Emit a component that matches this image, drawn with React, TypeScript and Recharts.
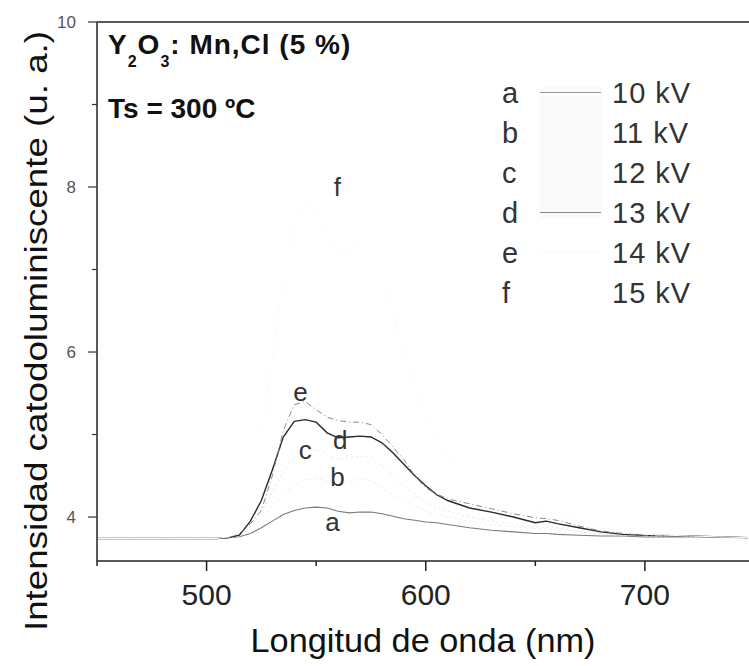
import React from 'react';
import { LineChart, Line, XAxis, YAxis, ReferenceLine, ReferenceDot } from 'recharts';

const wavelengths = [450, 480, 505, 510, 515, 520, 525, 530, 535, 540, 545, 550, 555, 560, 565, 570, 575, 580, 585, 590, 595, 600, 605, 610, 620, 630, 640, 650, 655, 660, 670, 680, 690, 700, 720, 747];

const seriesA = [3.74, 3.74, 3.74, 3.75, 3.76, 3.8, 3.87, 3.95, 4.03, 4.08, 4.11, 4.12, 4.11, 4.07, 4.05, 4.06, 4.06, 4.04, 4.01, 3.98, 3.96, 3.94, 3.93, 3.91, 3.87, 3.84, 3.82, 3.8, 3.8, 3.79, 3.78, 3.77, 3.77, 3.76, 3.76, 3.75];
const seriesB = [3.74, 3.74, 3.74, 3.75, 3.77, 3.85, 3.98, 4.14, 4.28, 4.38, 4.45, 4.47, 4.44, 4.4, 4.43, 4.46, 4.44, 4.36, 4.27, 4.2, 4.13, 4.07, 4.03, 4.0, 3.95, 3.91, 3.88, 3.86, 3.86, 3.85, 3.82, 3.79, 3.78, 3.77, 3.76, 3.75];
const seriesC = [3.74, 3.74, 3.74, 3.75, 3.77, 3.88, 4.05, 4.3, 4.55, 4.72, 4.8, 4.82, 4.76, 4.7, 4.72, 4.74, 4.72, 4.62, 4.5, 4.38, 4.27, 4.18, 4.12, 4.07, 4.0, 3.95, 3.91, 3.88, 3.88, 3.87, 3.83, 3.8, 3.78, 3.77, 3.76, 3.75];
const seriesD = [3.74, 3.74, 3.74, 3.75, 3.78, 3.95, 4.2, 4.57, 4.97, 5.16, 5.18, 5.15, 5.02, 4.96, 4.97, 4.98, 4.97, 4.9, 4.78, 4.64, 4.5, 4.38, 4.27, 4.2, 4.11, 4.06, 4.0, 3.93, 3.95, 3.92, 3.87, 3.82, 3.79, 3.78, 3.77, 3.75];
const seriesE = [3.74, 3.74, 3.74, 3.75, 3.8, 3.92, 4.08, 4.5, 5.05, 5.36, 5.4, 5.3, 5.21, 5.17, 5.15, 5.15, 5.12, 5.0, 4.85, 4.7, 4.5, 4.35, 4.28, 4.22, 4.16, 4.1, 4.04, 3.99, 3.98, 3.96, 3.89, 3.83, 3.8, 3.78, 3.77, 3.75];
const seriesF = [3.74, 3.74, 3.74, 3.76, 3.85, 4.3, 5.0, 5.9, 6.9, 7.6, 7.8, 7.7, 7.4, 7.2, 7.25, 7.3, 7.2, 6.9, 6.5, 6.0, 5.6, 5.25, 4.95, 4.75, 4.5, 4.3, 4.18, 4.08, 4.07, 4.04, 3.95, 3.87, 3.82, 3.79, 3.77, 3.75];

const seriesKeys = ['a', 'b', 'c', 'd', 'e', 'f'];
const seriesValues = [seriesA, seriesB, seriesC, seriesD, seriesE, seriesF];
const seriesNames = ['10 kV', '11 kV', '12 kV', '13 kV', '14 kV', '15 kV'];
const seriesColors = ['#7a7a7a', '#ececec', '#e8e8e8', '#2a2a2a', '#8a8a8a', '#fcfcfc'];
const seriesWidths = [1.1, 1, 1, 1.4, 1, 1];
const seriesDash = ['', '2 3', '2 3', '', '6 3 1 3', ''];
const legendLineColors = ['#999999', '#f6f6f6', '#f6f6f6', '#888888', '#f8f8f8', 'none'];

// curve label positions [wavelength, intensity]
const curveLabelX = [557.4, 559.7, 545, 561, 542.8, 559.7];
const curveLabelY = [3.94, 4.48, 4.81, 4.93, 5.52, 8.0];

const xTicks = [450, 500, 550, 600, 650, 700];
const xMajor = [500, 600, 700];
const yTicks = [4, 5, 6, 7, 8, 9, 10];
const yMajor = [4, 6, 8, 10];

const data = wavelengths.map((wl, i) => {
  const row: Record<string, number> = { wl };
  seriesKeys.forEach((k, j) => {
    row[k] = seriesValues[j][i];
  });
  return row;
});

const FONT = '"Liberation Sans", Arial, Helvetica, sans-serif';

const XTick = (props: any) => {
  const { x, y, payload } = props;
  const major = xMajor.includes(payload.value);
  return (
    <g>
      <line x1={x} x2={x} y1={y} y2={y + (major ? 10 : 5)} stroke="#222" strokeWidth={1.5} />
      {major && (
        <text x={x} y={y + 44} textAnchor="middle" fontSize={30} fill="#222" fontFamily={FONT}>
          {payload.value}
        </text>
      )}
    </g>
  );
};

const YTick = (props: any) => {
  const { x, y, payload } = props;
  const major = yMajor.includes(payload.value);
  return (
    <g>
      <line x1={x} x2={x - (major ? 9 : 5)} y1={y} y2={y} stroke="#333" strokeWidth={1.2} />
      {major && (
        <text x={x - 21} y={y + 6} textAnchor="end" fontSize={17} fill="#555" fontFamily={FONT}>
          {payload.value}
        </text>
      )}
    </g>
  );
};

const XTitle = (props: any) => {
  const { viewBox } = props;
  const cx = viewBox.x + viewBox.width / 2;
  return (
    <text
      x={cx}
      y={652}
      textAnchor="middle"
      fontSize={33}
      fill="#111"
      fontFamily={FONT}
      textLength={345}
      lengthAdjust="spacingAndGlyphs"
    >
      Longitud de onda (nm)
    </text>
  );
};

const YTitle = () => (
  <text
    x={0}
    y={0}
    transform="translate(47, 331) rotate(-90)"
    textAnchor="middle"
    fontSize={32}
    fill="#111"
    fontFamily={FONT}
    textLength={600}
    lengthAdjust="spacingAndGlyphs"
  >
    Intensidad catodoluminiscente (u. a.)
  </text>
);

const CurveLabel = (text: string) => (props: any) => {
  const { viewBox } = props;
  const cx = viewBox.x + viewBox.width / 2;
  const cy = viewBox.y + viewBox.height / 2;
  return (
    <text x={cx} y={cy + 9} textAnchor="middle" fontSize={26} fill="#333" fontFamily={FONT}>
      {text}
    </text>
  );
};

export default function App() {
  return (
    <div
      style={{
        position: 'absolute',
        left: 0,
        top: 0,
        width: 749,
        height: 666,
        background: '#fff',
        fontFamily: FONT,
        overflow: 'hidden',
      }}
    >
      <LineChart width={749} height={666} data={data} margin={{ top: 22, right: 0, bottom: 0, left: 0 }}>
        <XAxis
          type="number"
          dataKey="wl"
          domain={[450, 747.5]}
          allowDataOverflow
          ticks={xTicks}
          tickSize={0}
          tickMargin={0}
          height={105}
          axisLine={{ stroke: '#222', strokeWidth: 1.5 }}
          tickLine={false}
          tick={<XTick />}
          label={<XTitle />}
        />
        <YAxis
          type="number"
          domain={[3.467, 10]}
          allowDataOverflow
          ticks={yTicks}
          tickSize={0}
          tickMargin={0}
          width={97}
          axisLine={{ stroke: '#222', strokeWidth: 1.5 }}
          tickLine={false}
          tick={<YTick />}
          label={<YTitle />}
        />
        <ReferenceLine y={10} stroke="#222" strokeWidth={1.5} ifOverflow="visible" />
        {seriesKeys.map((k, j) => (
          <Line
            key={k}
            type="linear"
            dataKey={k}
            stroke={seriesColors[j]}
            strokeWidth={seriesWidths[j]}
            strokeDasharray={seriesDash[j] || undefined}
            dot={false}
            isAnimationActive={false}
          />
        ))}
        {seriesKeys.map((k, j) => (
          <ReferenceDot
            key={'lbl-' + k}
            x={curveLabelX[j]}
            y={curveLabelY[j]}
            r={1}
            fill="none"
            stroke="none"
            label={CurveLabel(k)}
          />
        ))}
      </LineChart>

      <svg
        width={749}
        height={666}
        style={{ position: 'absolute', left: 0, top: 0, pointerEvents: 'none' }}
      >
        <text x={108} y={54} fontSize={28} fontWeight="bold" fill="#111" fontFamily={FONT} letterSpacing={1}>
          Y
          <tspan fontSize={16} dy={13}>2</tspan>
          <tspan fontSize={28} dy={-13}>O</tspan>
          <tspan fontSize={16} dy={13}>3</tspan>
          <tspan fontSize={28} dy={-13}>: Mn,Cl (5 %)</tspan>
        </text>
        <text x={108} y={118} fontSize={28} fontWeight="bold" fill="#111" fontFamily={FONT}>
          Ts = 300 ºC
        </text>
      </svg>

      <div
        style={{
          position: 'absolute',
          left: 540,
          top: 87,
          width: 62,
          height: 131,
          background: '#fafafa',
        }}
      />
      <div style={{ position: 'absolute', left: 500, top: 73 }}>
        {seriesKeys.map((k, j) => (
          <div
            key={'leg-' + k}
            style={{ position: 'relative', height: 40, lineHeight: '40px', fontSize: 29, color: '#333', width: 220 }}
          >
            <span style={{ position: 'absolute', left: 2, top: 0 }}>{k}</span>
            <span
              style={{
                position: 'absolute',
                left: 40,
                top: 19,
                width: 61,
                height: 0,
                borderTop: legendLineColors[j] === 'none' ? 'none' : `1px solid ${legendLineColors[j]}`,
              }}
            />
            <span style={{ position: 'absolute', left: 112, top: 0, letterSpacing: 1 }}>{seriesNames[j]}</span>
          </div>
        ))}
      </div>
    </div>
  );
}
